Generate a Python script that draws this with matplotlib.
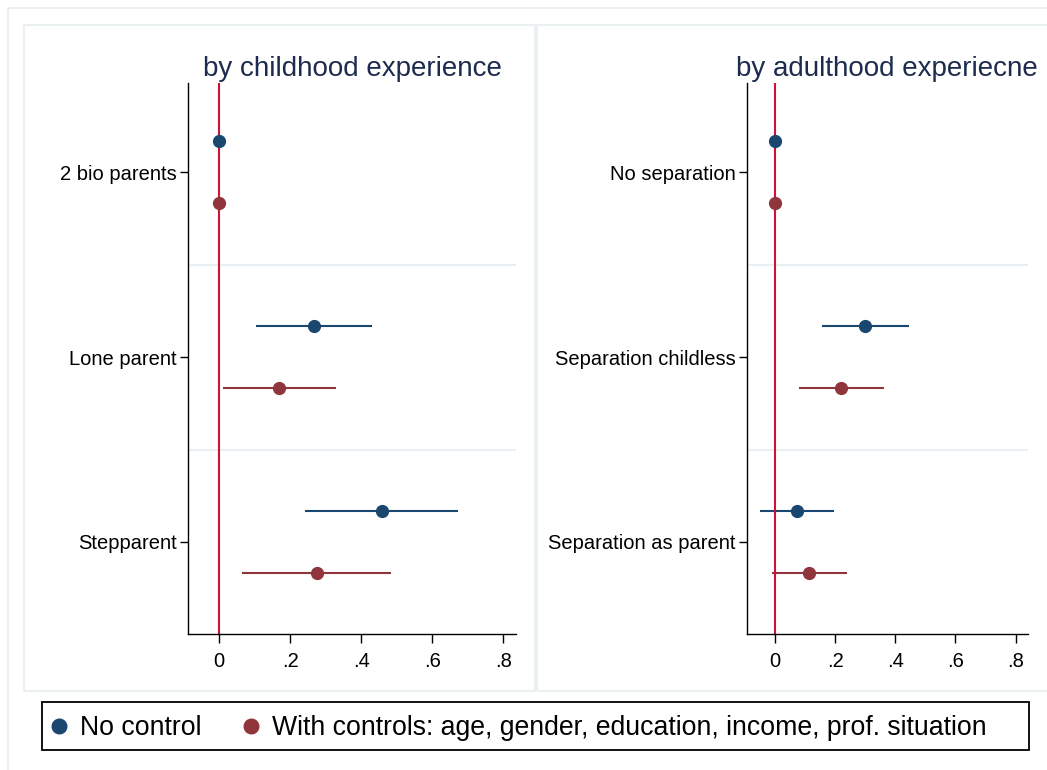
import matplotlib
matplotlib.use("Agg")
import matplotlib.pyplot as plt
from matplotlib.patches import Rectangle
from matplotlib.lines import Line2D
import numpy as np

plt.rcParams['font.family'] = ['Liberation Sans', 'DejaVu Sans']

# --- data (coefficients and 95% CI) ---
child_labels = ["2 bio parents", "Lone parent", "Stepparent"]
child_nc = [0.0, 0.266, 0.457]
child_nc_lo = [np.nan, 0.103, 0.242]
child_nc_hi = [np.nan, 0.429, 0.671]
child_wc = [0.0, 0.168, 0.275]
child_wc_lo = [np.nan, 0.010, 0.065]
child_wc_hi = [np.nan, 0.328, 0.483]

adult_labels = ["No separation", "Separation childless", "Separation as parent"]
adult_nc = [0.0, 0.301, 0.073]
adult_nc_lo = [np.nan, 0.158, -0.051]
adult_nc_hi = [np.nan, 0.445, 0.198]
adult_wc = [0.0, 0.220, 0.115]
adult_wc_lo = [np.nan, 0.080, -0.010]
adult_wc_hi = [np.nan, 0.362, 0.239]

xticks = [0, 0.2, 0.4, 0.6, 0.8]
xticklabels = ["0", ".2", ".4", ".6", ".8"]

BLUE = "#1a476f"
MAROON = "#90353b"
REFLINE = "#cc1236"
FRAME = "#e6eef0"
TITLE_C = "#1c2b4e"

W, H = 1047, 770
fig = plt.figure(figsize=(W / 100, H / 100), dpi=100)
fig.patch.set_facecolor("white")


def px_rect(x0, y0, x1, y1, **kw):
    # rectangle given in pixel coords (origin top-left)
    r = Rectangle((x0 / W, 1 - y1 / H), (x1 - x0) / W, (y1 - y0) / H,
                  transform=fig.transFigure, fill=False, **kw)
    fig.add_artist(r)


# outer frame and two panel frames
px_rect(7.5, 8, 1070, 790, edgecolor=FRAME, linewidth=1.2)
px_rect(24, 25, 535, 691, edgecolor=FRAME, linewidth=1.2)
px_rect(537, 25, 1070, 691, edgecolor=FRAME, linewidth=1.2)


def coef_panel(ax, labels, nc, nc_lo, nc_hi, wc, wc_lo, wc_hi, title):
    pos = np.arange(1, len(labels) + 1)
    off = 1 / 6
    # separators between groups
    for b in pos[:-1] + 0.5:
        ax.axhline(b, color="#e9eff2", linewidth=1.5, zorder=1)
    # confidence intervals
    for p, lo, hi in zip(pos, nc_lo, nc_hi):
        if not np.isnan(lo):
            ax.hlines(p - off, lo, hi, color=BLUE, linewidth=1.5, zorder=2)
    for p, lo, hi in zip(pos, wc_lo, wc_hi):
        if not np.isnan(lo):
            ax.hlines(p + off, lo, hi, color=MAROON, linewidth=1.5, zorder=2)
    ax.axvline(0, color=REFLINE, linewidth=1.5, zorder=2.5)
    ax.plot(nc, pos - off, "o", color=BLUE, markersize=8.5, zorder=3)
    ax.plot(wc, pos + off, "o", color=MAROON, markersize=8.5, zorder=3)

    ax.set_ylim(3.5, 0.515)
    ax.set_yticks(pos)
    ax.set_yticklabels(labels)
    ax.set_xticks(xticks)
    ax.set_xticklabels(xticklabels)
    ax.spines["top"].set_visible(False)
    ax.spines["right"].set_visible(False)
    for s in ("left", "bottom"):
        ax.spines[s].set_linewidth(1.0)
    ax.tick_params(axis="y", length=5.8, width=1.0, labelsize=14.5, pad=2.5)
    ax.tick_params(axis="x", length=6.5, width=1.0, labelsize=14.5, pad=6)
    ax.set_title(title, fontsize=20, color=TITLE_C, pad=5)


# axes positions (pixel -> figure fraction)
yb, yt = 634.4, 82.6
ax1 = fig.add_axes([188.4 / W, 1 - yb / H, (515.5 - 188.4) / W, (yb - yt) / H])
ax1.set_xlim(-0.087, 0.834)
coef_panel(ax1, child_labels, child_nc, child_nc_lo, child_nc_hi,
           child_wc, child_wc_lo, child_wc_hi, "by childhood experience")

ax2 = fig.add_axes([746.9 / W, 1 - yb / H, (1027.6 - 746.9) / W, (yb - yt) / H])
ax2.set_xlim(-0.093, 0.840)
coef_panel(ax2, adult_labels, adult_nc, adult_nc_lo, adult_nc_hi,
           adult_wc, adult_wc_lo, adult_wc_hi, "by adulthood experiecne")

# legend
px_rect(42.3, 702.3, 1029.3, 750.3, edgecolor="black", linewidth=1.3)
handles = [
    Line2D([], [], marker="o", linestyle="none", color=BLUE, markersize=10.5),
    Line2D([], [], marker="o", linestyle="none", color=MAROON, markersize=10.5),
]
fig.legend(handles, ["No control",
                     "With controls: age, gender, education, income, prof. situation"],
           loc="center left", bbox_to_anchor=(51 / W, 1 - 728 / H),
           ncol=2, frameon=False, fontsize=19.2, borderpad=0, borderaxespad=0,
           handlelength=0.6, handletextpad=0.5, columnspacing=1.55)

fig.savefig("out.png", dpi=100)
